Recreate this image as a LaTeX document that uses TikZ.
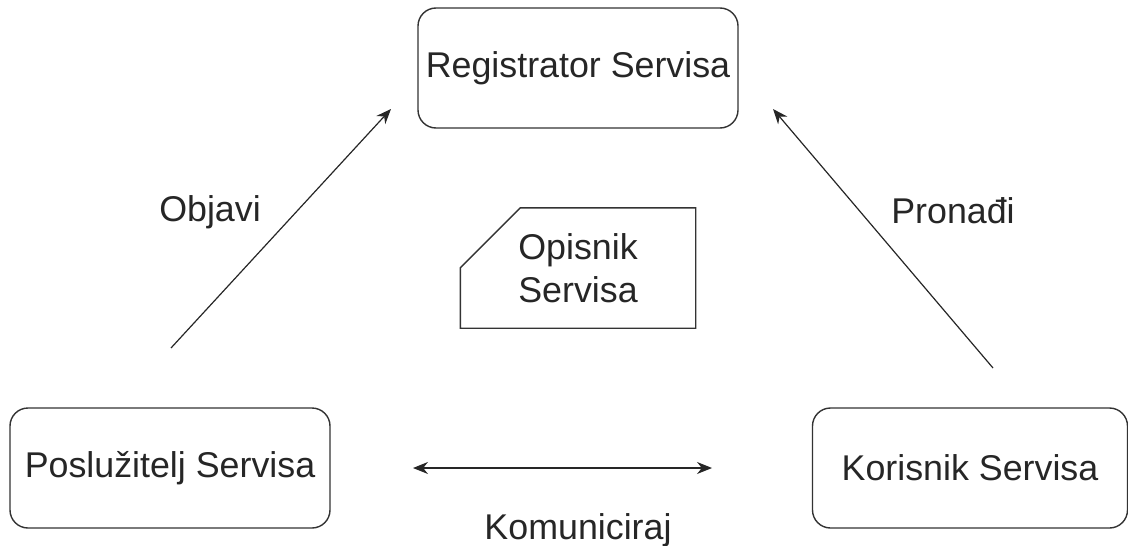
\documentclass[tikz,border=0pt]{standalone}
\usepackage{fontspec}
\setmainfont{Liberation Sans}
\usetikzlibrary{arrows.meta,calc,positioning}

\tikzset{
  service/.style={draw=black!80, line width=1.4pt, rounded corners=18pt,
    minimum width=320pt, minimum height=120pt, text=black!85,
    font=\fontsize{35.8}{42}\selectfont},
  link/.style={draw=black!85, line width=1.2pt, -{Stealth[length=15pt,width=12pt]}},
  lbl/.style={text=black!85, font=\fontsize{35.8}{42}\selectfont}
}

\begin{document}
\begin{tikzpicture}[x=1pt,y=-1pt]
                \useasboundingbox (0,0) rectangle (1128,546);
                \node[service] (reg) at (578,68) {Registrator Servisa};
                \node[service] (posl) at (170,468) {Poslužitelj Servisa};
                \node[service, minimum width=315pt] (kor) at (970,468) {Korisnik Servisa};
                \node[minimum width=235pt, minimum height=120pt, align=center, text=black!85,
                      font=\fontsize{35.8}{43}\selectfont] (opis) at (578,268) {Opisnik\\Servisa};
                \draw[draw=black!80, line width=1.4pt] ($(opis.north west)+(60,0)$) -- (opis.north east)
                    -- (opis.south east) -- (opis.south west) -- ($(opis.north west)+(0,60)$) -- cycle;
                \coordinate (objS) at (171,348);
                \coordinate (objE) at (391,109);
                \coordinate (proS) at (993,368);
                \coordinate (proE) at (773,109);
                \coordinate (komL) at (413,468);
                \coordinate (komR) at (712,468);
                \draw[link] (objS) -- (objE);
                \draw[link] (proS) -- (proE);
                \draw[link, {Stealth[length=15pt,width=12pt]}-{Stealth[length=15pt,width=12pt]}] (komL) -- (komR);
                \node[lbl] (objavi) at (210,212) {Objavi};
                \node[lbl] (pronadji) at (953,211) {Pronađi};
                \node[lbl] (komuniciraj) at (578,530) {Komuniciraj};
                % \draw[help lines] (0,0) grid[step=100] (1128,546);
            \end{tikzpicture}
\end{document}
